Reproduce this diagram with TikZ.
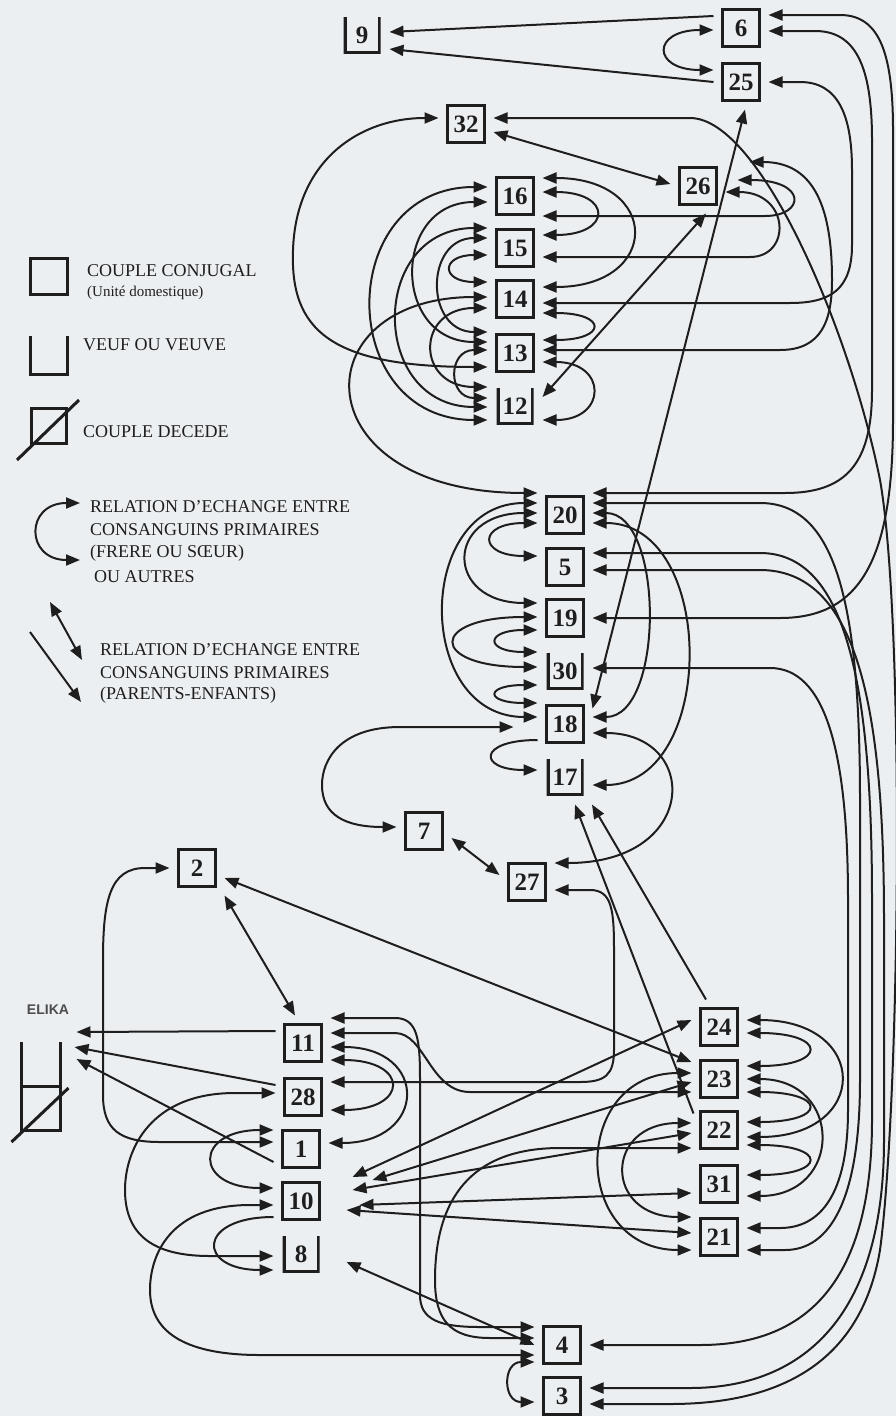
\documentclass[tikz,border=0pt]{standalone}
\usepackage{fontspec}
\setmainfont{Liberation Serif}
\newfontfamily\elikafont{Liberation Sans}
\usetikzlibrary{arrows.meta}

\definecolor{fond}{RGB}{236,239,241}
\definecolor{trait}{RGB}{30,30,30}

\begin{document}
\begin{tikzpicture}[x=1pt, y=1pt,
    >={Triangle[length=14pt,width=11pt]},
    menbox/.style={draw=trait, line width=3pt, minimum width=37pt, minimum height=37pt, inner sep=0pt, outer sep=9pt, text=trait, font=\fontsize{25}{25}\selectfont\bfseries},
    menveuf/.style={menbox, draw=none, path picture={\draw[trait, line width=6pt] (path picture bounding box.north west) -- (path picture bounding box.south west) -- (path picture bounding box.south east) -- (path picture bounding box.north east);}},
    menlink/.style={trait, line width=2pt},
    menxch/.style={menlink, <->},
    menone/.style={menlink, ->},
    legtext/.style={anchor=west, inner sep=0pt, text=trait, font=\fontsize{18}{18}\selectfont}
  ]
  \fill[fond] (0,0) rectangle (896,-1416);
  \useasboundingbox (0,0) rectangle (896,-1416);

  % legende
  \draw[trait, line width=3pt] (30,-258) rectangle (67,-294);
  \node[legtext] (legconj) at (87,-271) {COUPLE CONJUGAL};
  \node[legtext, font=\fontsize{15}{15}\selectfont] (legunit) at (87,-293) {(Unité domestique)};
  \draw[trait, line width=3pt] (30,-336) -- (30,-374) -- (67,-374) -- (67,-336);
  \node[legtext] (legveuf) at (83,-345) {VEUF OU VEUVE};
  \draw[trait, line width=3pt] (31,-408) rectangle (66,-443);
  \draw[trait, line width=3pt] (17,-460) -- (79,-400);
  \node[legtext] (legdec) at (83,-432) {COUPLE DECEDE};
  \draw[menxch] (80,-503) .. controls (25,-503) and (25,-560) .. (80,-560);
  \node[legtext] (legfr1) at (90,-507) {RELATION D'ECHANGE ENTRE};
  \node[legtext] (legfr2) at (90,-530) {CONSANGUINS PRIMAIRES};
  \node[legtext] (legfr3) at (90,-553) {(FRERE OU SŒUR)};
  \node[legtext] (legfr4) at (94,-577) {OU AUTRES};
  \draw[menxch] (50,-602) -- (82,-660);
  \draw[menone] (30,-632) -- (81,-702);
  \node[legtext] (legpe1) at (100,-650) {RELATION D'ECHANGE ENTRE};
  \node[legtext] (legpe2) at (100,-673) {CONSANGUINS PRIMAIRES};
  \node[legtext] (legpe3) at (100,-695) {(PARENTS-ENFANTS)};

  % menages
  \node[menveuf] (n9) at (362,-35) {9};
  \node[menbox] (n6) at (741,-28) {6};
  \node[menbox] (n25) at (741,-82) {25};
  \node[menbox] (n32) at (466,-124) {32};
  \node[menbox] (n26) at (698,-186) {26};
  \node[menbox] (n16) at (515,-196) {16};
  \node[menbox] (n15) at (515,-248) {15};
  \node[menbox] (n14) at (515,-299) {14};
  \node[menbox] (n13) at (515,-353) {13};
  \node[menveuf] (n12) at (515,-406) {12};
  \node[menbox] (n20) at (565,-515) {20};
  \node[menbox] (n5) at (565,-567) {5};
  \node[menbox] (n19) at (565,-618) {19};
  \node[menveuf] (n30) at (565,-671) {30};
  \node[menbox] (n18) at (565,-724) {18};
  \node[menveuf] (n17) at (565,-777) {17};
  \node[menbox] (n7) at (424,-831) {7};
  \node[menbox] (n27) at (527,-882) {27};
  \node[menbox] (n2) at (197,-868) {2};
  \node[menbox] (n11) at (303,-1043) {11};
  \node[menbox] (n28) at (303,-1097) {28};
  \node[menbox] (n1) at (301,-1149) {1};
  \node[menbox] (n10) at (301,-1201) {10};
  \node[menveuf] (n8) at (301,-1254) {8};
  \node[menbox] (n24) at (719,-1027) {24};
  \node[menbox] (n23) at (719,-1079) {23};
  \node[menbox] (n22) at (719,-1130) {22};
  \node[menbox] (n31) at (719,-1184) {31};
  \node[menbox] (n21) at (719,-1237) {21};
  \node[menbox] (n4) at (562,-1345) {4};
  \node[menbox] (n3) at (562,-1396) {3};

  % Elika
  \node[text=black!70, font=\elikafont\fontsize{14}{14}\selectfont\bfseries] (elikalabel) at (48,-1010) {ELIKA};
  \node[minimum width=39pt, minimum height=88pt, inner sep=0pt, outer sep=0pt] (elika) at (41,-1086) {};
  \draw[trait, line width=3pt] (elika.north west) -- (elika.south west) -- (elika.south east) -- (elika.north east);
  \draw[trait, line width=3pt] (elika.west) -- (elika.east);
  \draw[trait, line width=3pt] ([shift={(-10,-12)}]elika.south west) -- ([shift={(8,-2)}]elika.east);

  % haut
  \draw[menone] ([yshift=12]n6.west) -- ([yshift=3]n9.east);
  \draw[menone] (n25.west) -- ([yshift=-14]n9.east);
  \draw[menxch] ([yshift=-2]n6.west) .. controls +(-62,0) and +(-62,0) .. ([yshift=12]n25.west);
  \draw[menxch] ([yshift=13]n6.east) -- (840,-15) .. controls (878,-15) and (893,-50) .. (893,-130) -- (893,-420) .. controls (893,-560) and (860,-618) .. (780,-618) -- (n19.east);
  \draw[menxch] ([yshift=-3]n6.east) -- (815,-31) .. controls (855,-31) and (872,-65) .. (872,-140) -- (872,-390) .. controls (872,-465) and (845,-493) .. (785,-493) -- ([yshift=22]n20.east);
  \draw[menxch] (n25.east) -- (800,-82) .. controls (838,-82) and (852,-115) .. (852,-170) -- (852,-245) .. controls (852,-290) and (830,-303) .. (790,-303) -- ([yshift=-4]n14.east);
  \draw[menxch] ([yshift=-8]n32.east) -- ([yshift=2]n26.west);
  \draw[menxch] ([yshift=6]n32.east) -- (690,-118) .. controls (760,-118) and (850,-330) .. (880,-480) .. controls (905,-620) and (900,-1100) .. (880,-1250) .. controls (860,-1370) and (770,-1404) .. (670,-1404) -- ([yshift=-8]n3.east);
  \draw[menxch] ([xshift=8]n26.south) -- ([yshift=9]n12.east);
  \draw[menxch] ([xshift=4]n25.south) -- ([yshift=-12]n18.north east);

  % 16 a 12, cote droit
  \draw[menxch] ([yshift=18]n16.east) .. controls +(119,0) and +(119,0) .. ([yshift=12]n14.east);
  \draw[menxch] ([yshift=4]n16.east) .. controls +(70,0) and +(70,0) .. ([yshift=13]n15.east);
  \draw[menxch] ([yshift=-20]n16.east) -- (765,-216) .. controls (805,-216) and (808,-180) .. ([shift={(12,6)}]n26.east);
  \draw[menxch] ([yshift=-9]n15.east) -- (750,-257) .. controls (792,-257) and (790,-192) .. ([yshift=-6]n26.east);
  \draw[menxch] ([yshift=-14]n14.east) .. controls +(65,0) and +(65,0) .. ([yshift=13]n13.east);
  \draw[menxch] ([yshift=3]n13.east) -- (780,-350) .. controls (822,-350) and (832,-320) .. (832,-280) .. controls (832,-200) and (810,-162) .. ([shift={(24,24)}]n26.east);
  \draw[menxch] ([yshift=-9]n13.east) .. controls +(65,0) and +(65,0) .. ([yshift=-14]n12.east);

  % 16 a 12, cote gauche
  \draw[menxch] ([yshift=9]n16.west) .. controls +(-153,0) and +(-153,0) .. ([yshift=-14]n12.west);
  \draw[menxch] ([yshift=-6]n16.west) .. controls +(-96,0) and +(-96,0) .. ([yshift=11]n13.west);
  \draw[menxch] ([yshift=20]n15.west) .. controls +(-119,0) and +(-119,0) .. ([yshift=-1]n12.west);
  \draw[menxch] ([yshift=10]n15.west) .. controls +(-63,0) and +(-63,0) .. ([yshift=21]n13.west);
  \draw[menxch] ([yshift=-7]n15.west) .. controls +(-47,0) and +(-47,0) .. ([yshift=17]n14.west);
  \draw[menxch] ([yshift=-9]n14.west) .. controls +(-72,0) and +(-72,0) .. ([yshift=19]n12.west);
  \draw[menxch] ([yshift=3]n13.west) .. controls +(-40,0) and +(-40,0) .. ([yshift=8]n12.west);
  \draw[menxch] ([yshift=2]n14.west) .. controls (300,-297) and (300,-493) .. ([yshift=22]n20.west);
  \draw[menxch] ([yshift=-14]n13.west) .. controls (330,-367) and (290,-330) .. (293,-250) .. controls (296,-160) and (360,-118) .. ([yshift=6]n32.west);

  % 20 a 17, cote gauche
  \draw[menxch] ([yshift=12]n20.west) .. controls +(-123,0) and +(-123,0) .. ([yshift=7]n18.west);
  \draw[menxch] ([yshift=2]n20.west) .. controls +(-93,0) and +(-93,0) .. ([yshift=15]n19.west);
  \draw[menxch] ([yshift=-8]n20.west) .. controls +(-60,0) and +(-60,0) .. ([yshift=11]n5.west);
  \draw[menxch] ([yshift=1]n19.west) .. controls +(-109,0) and +(-109,0) .. ([yshift=4]n30.west);
  \draw[menxch] ([yshift=-12]n19.west) .. controls +(-53,0) and +(-53,0) .. ([yshift=19]n30.west);
  \draw[menxch] ([yshift=-14]n30.west) .. controls +(-53,0) and +(-53,0) .. ([yshift=21]n18.west);
  \draw[menone] ([yshift=-16]n18.west) .. controls +(-60,0) and +(-60,0) .. ([yshift=7]n17.west);
  \draw[menxch] ([shift={(-24,-3)}]n18.west) -- (400,-727) .. controls (340,-727) and (322,-760) .. (322,-785) .. controls (322,-815) and (345,-827) .. ([yshift=4]n7.west);

  % 20 a 17, cote droit
  \draw[menxch] ([yshift=2]n20.east) .. controls +(72,0) and +(72,0) .. ([yshift=7]n18.east);
  \draw[menxch] ([yshift=-8]n20.east) .. controls +(125,0) and +(125,0) .. ([yshift=-8]n17.east);
  \draw[menxch] ([yshift=-9]n18.east) .. controls (700,-733) and (700,-863) .. ([yshift=19]n27.east);
  \draw[menxch] ([yshift=12]n20.east) -- (760,-503) .. controls (835,-503) and (860,-600) .. (860,-800) -- (860,-1080) .. controls (860,-1200) and (830,-1250) .. (785,-1250) -- ([yshift=-13]n21.east);
  \draw[menxch] ([yshift=3]n30.east) -- (770,-668) .. controls (825,-668) and (848,-750) .. (848,-900) -- (848,-1110) .. controls (848,-1195) and (820,-1228) .. (780,-1228) -- ([yshift=9]n21.east);
  \draw[menxch] ([yshift=14]n5.east) -- (760,-553) .. controls (845,-553) and (872,-680) .. (872,-900) -- (872,-1120) .. controls (872,-1290) and (800,-1345) .. (700,-1345) -- (n4.east);
  \draw[menxch] ([yshift=-3]n5.east) -- (760,-570) .. controls (855,-570) and (884,-700) .. (884,-920) -- (884,-1140) .. controls (884,-1320) and (800,-1388) .. (690,-1388) -- ([yshift=8]n3.east);

  % 24 a 21
  \draw[menxch] ([yshift=7]n24.east) .. controls +(124,0) and +(124,0) .. ([yshift=-7]n22.east);
  \draw[menxch] ([yshift=-6]n24.east) .. controls +(81,0) and +(81,0) .. ([yshift=13]n23.east);
  \draw[menxch] (n23.east) .. controls +(97,0) and +(97,0) .. ([yshift=-12]n31.east);
  \draw[menxch] ([yshift=-13]n23.east) .. controls +(81,0) and +(81,0) .. ([yshift=8]n22.east);
  \draw[menxch] ([yshift=-15]n22.east) .. controls +(81,0) and +(81,0) .. ([yshift=9]n31.east);
  \draw[menxch] ([yshift=6]n23.west) .. controls +(-121,0) and +(-121,0) .. ([yshift=-13]n21.west);
  \draw[menxch] ([yshift=7]n22.west) .. controls +(-88,0) and +(-88,0) .. ([yshift=20]n21.west);
  \draw[menone] ([xshift=-13]n24.north) -- ([xshift=27]n17.south);
  \draw[menone] ([shift={(2,-11)}]n22.north west) -- ([xshift=10]n17.south);

  % liens vers 10
  \draw[menxch] ([yshift=7]n24.west) -- ([shift={(24,24)}]n10.east);
  \draw[menxch] ([yshift=-3]n23.west) -- ([shift={(44,21)}]n10.east);
  \draw[menxch] ([yshift=-3]n22.west) -- ([shift={(24,11)}]n10.east);
  \draw[menxch] ([yshift=-9]n31.west) -- ([shift={(31,-4)}]n10.east);
  \draw[menxch] ([yshift=4]n21.west) -- ([shift={(18,-9)}]n10.east);

  % 2, 7, 27
  \draw[menxch] ([yshift=-10]n2.east) -- ([yshift=17]n23.west);
  \draw[menxch] (n2.south east) -- ([xshift=-8]n11.north);
  \draw[menxch] ([yshift=-7]n7.east) -- ([yshift=7]n27.west);
  \draw[menxch] ([yshift=-8]n27.east) -- (590,-890) .. controls (612,-890) and (614,-910) .. (614,-950) -- (614,-1050) .. controls (614,-1075) and (605,-1082) .. (580,-1082) -- ([yshift=15]n28.east);

  % 11 a 8
  \draw[menone] ([yshift=12]n11.west) -- ([shift={(16,10)}]elika.north east);
  \draw[menone] ([yshift=12]n28.west) -- ([shift={(14,-5)}]elika.north east);
  \draw[menone] ([yshift=-13]n1.west) -- ([shift={(16,-17)}]elika.north east);
  \draw[menxch] (n2.west) -- (145,-868) .. controls (110,-868) and (103,-900) .. (103,-960) -- (103,-1095) .. controls (103,-1130) and (120,-1142) .. (160,-1142) -- ([yshift=7]n1.west);
  \draw[menxch] ([yshift=4]n28.west) -- (235,-1093) .. controls (150,-1093) and (125,-1150) .. (125,-1190) .. controls (125,-1240) and (160,-1256) .. (210,-1256) -- ([yshift=-2]n8.west);
  \draw[menxch] ([yshift=19]n1.west) .. controls +(-80,0) and +(-80,0) .. ([yshift=13]n10.west);
  \draw[menone] ([yshift=-16]n10.west) .. controls +(-77,0) and +(-77,0) .. ([yshift=-16]n8.west);
  \draw[menxch] ([yshift=-4]n10.west) -- (250,-1205) .. controls (170,-1205) and (150,-1255) .. (150,-1290) .. controls (150,-1335) and (190,-1355) .. (260,-1355) -- ([yshift=-10]n4.west);
  \draw[menxch] ([yshift=-4]n11.east) .. controls +(99,0) and +(99,0) .. ([yshift=6]n1.east);
  \draw[menxch] ([yshift=-17]n11.east) .. controls +(79,0) and +(79,0) .. ([yshift=-13]n28.east);
  \draw[menxch] ([yshift=10]n11.east) -- (395,-1033) .. controls (425,-1033) and (430,-1092) .. (470,-1092) -- ([yshift=-13]n23.west);
  \draw[menxch] ([yshift=25]n11.east) -- (395,-1018) .. controls (418,-1018) and (420,-1040) .. (420,-1080) -- (420,-1295) .. controls (420,-1320) and (440,-1327) .. (480,-1327) -- ([yshift=18]n4.west);
  \draw[menxch] ([yshift=-18]n22.west) -- (560,-1148) .. controls (470,-1148) and (435,-1200) .. (435,-1280) .. controls (435,-1320) and (450,-1338) .. (490,-1338) -- ([yshift=7]n4.west);
  \draw[menxch] ([shift={(18,-8)}]n8.east) -- (n4.west);
  \draw[menxch] ([yshift=-17]n4.west) .. controls +(-32,0) and +(-32,0) .. ([yshift=-6]n3.west);
\end{tikzpicture}
\end{document}
